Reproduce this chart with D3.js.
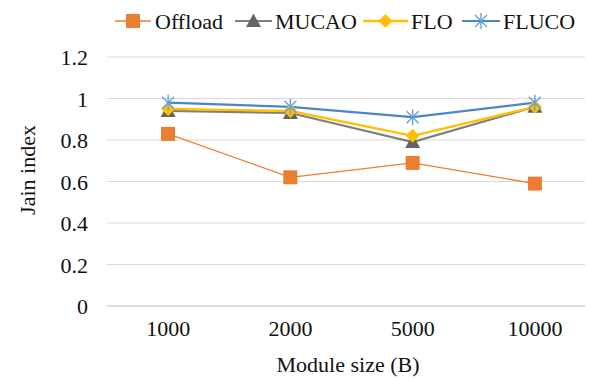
<!DOCTYPE html>
<html>
<head>
<meta charset="utf-8">
<script src="https://cdn.jsdelivr.net/npm/d3@7/dist/d3.min.js"></script>
<style>
  html, body { margin: 0; padding: 0; background: #fff; }
  svg { display: block; }
</style>
</head>
<body>
<svg id="chart" width="589" height="380"></svg>
<script>
// Jain fairness index by module size
const categories = ["1000", "2000", "5000", "10000"];
const offload = [0.83, 0.62, 0.69, 0.59];
const mucao   = [0.94, 0.93, 0.79, 0.96];
const flo     = [0.95, 0.94, 0.82, 0.96];
const fluco   = [0.98, 0.96, 0.91, 0.98];
const yTicks  = [0, 0.2, 0.4, 0.6, 0.8, 1, 1.2];

const FONT = "'Liberation Serif', 'Times New Roman', Times, serif";

const seriesList = [
  { name: "Offload", values: offload, color: "#ED7D31", width: 1.3, marker: "square" },
  { name: "MUCAO",   values: mucao,   color: "#7F7F7F", width: 2.2, marker: "triangle" },
  { name: "FLO",     values: flo,     color: "#FFC000", width: 2.4, marker: "diamond" },
  { name: "FLUCO",   values: fluco,   color: "#4A86C8", width: 2.2, marker: "star" }
];

const svg = d3.select("#chart");
const plotLeft = 107, plotRight = 585;
const plotTop = 57, plotBottom = 306;

const x = d3.scaleBand().domain(categories).range([plotLeft, 596]);
const y = d3.scaleLinear().domain([0, 1.2]).range([plotBottom, plotTop]);

function styleText(sel) {
  sel.style("font-family", FONT).style("font-size", "22px").style("fill", "#111");
}

// horizontal gridlines
svg.append("g").selectAll("line").data(yTicks.filter(d => d > 0)).join("line")
  .attr("x1", plotLeft).attr("x2", plotRight)
  .attr("y1", d => y(d)).attr("y2", d => y(d))
  .attr("stroke", "#d9d9d9").attr("stroke-width", 1);

// category axis line
svg.append("line")
  .attr("x1", plotLeft).attr("x2", plotRight)
  .attr("y1", y(0)).attr("y2", y(0))
  .attr("stroke", "#d0d0d0").attr("stroke-width", 1.5);

// y tick labels
const yAxis = d3.axisLeft(y).tickValues(yTicks).tickSize(0).tickPadding(0)
  .tickFormat(d => String(+d.toFixed(1)));
const gy = svg.append("g").attr("transform", "translate(88,0)").call(yAxis);
gy.select(".domain").remove();
gy.attr("font-family", null).attr("font-size", null);
gy.selectAll("text").call(styleText).attr("dy", "0.35em");

// x tick labels
const xAxis = d3.axisBottom(x).tickSize(0).tickPadding(0);
const gx = svg.append("g").attr("transform", "translate(0,320)").call(xAxis);
gx.select(".domain").remove();
gx.attr("font-family", null).attr("font-size", null);
gx.selectAll("text").call(styleText).attr("dy", "0.71em");

// axis titles
svg.append("text").attr("x", 348).attr("y", 372).attr("text-anchor", "middle")
  .call(styleText).text("Module size (B)");
svg.append("text").attr("transform", "translate(35,170) rotate(-90)")
  .attr("text-anchor", "middle").call(styleText).text("Jain index");

function drawMarker(g, type, color) {
  if (type === "square") {
    g.append("rect").attr("x", -6.5).attr("y", -6.5).attr("width", 13).attr("height", 13)
      .attr("fill", color).attr("stroke", "#E0701F").attr("stroke-width", 0.8);
  } else if (type === "triangle") {
    g.append("path").attr("d", "M0,-7.5L7.5,6L-7.5,6Z").attr("fill", "#636363");
  } else if (type === "diamond") {
    g.append("path").attr("d", "M0,-7L7,0L0,7L-7,0Z").attr("fill", color);
  } else if (type === "star") {
    g.append("path").attr("d", "M-6,-6L6,6M-6,6L6,-6M0,-8L0,8")
      .attr("stroke", "#6A9FD8").attr("stroke-width", 1.4).attr("fill", "none");
  }
}

const cx = c => x(c) + x.bandwidth() / 2;
const line = d3.line().x((d, i) => cx(categories[i])).y(d => y(d));

const gs = svg.append("g");
seriesList.forEach(s => {
  gs.append("path").datum(s.values).attr("d", line)
    .attr("fill", "none").attr("stroke", s.color).attr("stroke-width", s.width);
});
seriesList.forEach(s => {
  s.values.forEach((v, i) => {
    const g = gs.append("g").attr("transform", `translate(${cx(categories[i])},${y(v)})`);
    drawMarker(g, s.marker, s.color);
  });
});

// legend
const legendItems = [
  { s: seriesList[0], x0: 115, x1: 151, tx: 155 },
  { s: seriesList[1], x0: 235, x1: 272, tx: 275 },
  { s: seriesList[2], x0: 363, x1: 408, tx: 411 },
  { s: seriesList[3], x0: 462, x1: 500, tx: 503 }
];
const ly = 21;
legendItems.forEach(it => {
  svg.append("line").attr("x1", it.x0).attr("x2", it.x1).attr("y1", ly).attr("y2", ly)
    .attr("stroke", it.s.color).attr("stroke-width", it.s.width);
  const g = svg.append("g").attr("transform", `translate(${(it.x0 + it.x1) / 2},${ly})`);
  drawMarker(g, it.s.marker, it.s.color);
  svg.append("text").attr("x", it.tx).attr("y", ly).attr("dy", "0.35em")
    .call(styleText).text(it.s.name);
});
</script>
</body>
</html>
